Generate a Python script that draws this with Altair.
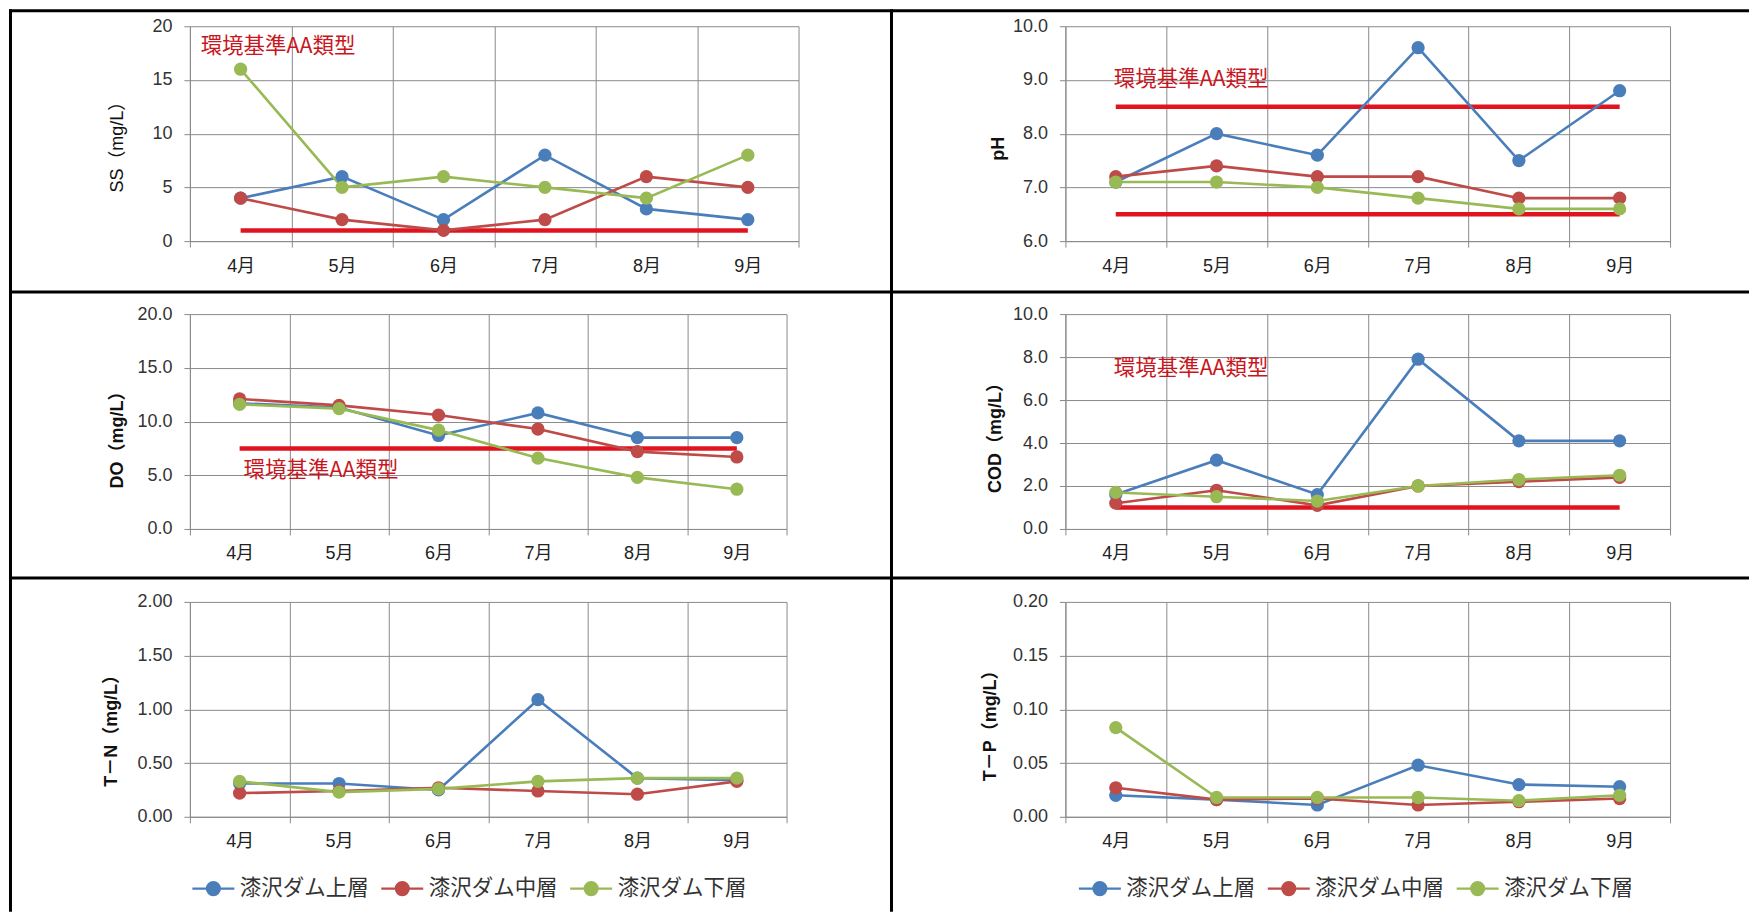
import altair as alt
import pandas as pd

# ---- data -------------------------------------------------------------
months = ["4月", "5月", "6月", "7月", "8月", "9月"]
series_names = ["漆沢ダム上層", "漆沢ダム中層", "漆沢ダム下層"]
series_colors = ["#4A7EBB", "#BE4B48", "#98B954"]

ss_upper = [4, 6, 2, 8, 3, 2]
ss_middle = [4, 2, 1, 2, 6, 5]
ss_lower = [16, 5, 6, 5, 4, 8]
ss_standard = [1.0]
ss_ticks = [0, 5, 10, 15, 20]

ph_upper = [7.1, 8.0, 7.6, 9.6, 7.5, 8.8]
ph_middle = [7.2, 7.4, 7.2, 7.2, 6.8, 6.8]
ph_lower = [7.1, 7.1, 7.0, 6.8, 6.6, 6.6]
ph_standard = [8.5, 6.5]
ph_ticks = [6.0, 7.0, 8.0, 9.0, 10.0]

do_upper = [11.7, 11.3, 8.7, 10.8, 8.5, 8.5]
do_middle = [12.1, 11.5, 10.6, 9.3, 7.2, 6.7]
do_lower = [11.6, 11.2, 9.2, 6.6, 4.8, 3.7]
do_standard = [7.5]
do_ticks = [0.0, 5.0, 10.0, 15.0, 20.0]

cod_upper = [1.6, 3.2, 1.6, 7.9, 4.1, 4.1]
cod_middle = [1.2, 1.8, 1.1, 2.0, 2.2, 2.4]
cod_lower = [1.7, 1.5, 1.3, 2.0, 2.3, 2.5]
cod_standard = [1.0]
cod_ticks = [0.0, 2.0, 4.0, 6.0, 8.0, 10.0]

tn_upper = [0.31, 0.31, 0.25, 1.09, 0.36, 0.34]
tn_middle = [0.22, 0.24, 0.27, 0.24, 0.21, 0.33]
tn_lower = [0.33, 0.23, 0.26, 0.33, 0.36, 0.36]
tn_ticks = [0.0, 0.5, 1.0, 1.5, 2.0]

tp_upper = [0.020, 0.016, 0.011, 0.048, 0.030, 0.028]
tp_middle = [0.027, 0.016, 0.017, 0.011, 0.014, 0.017]
tp_lower = [0.083, 0.018, 0.018, 0.018, 0.015, 0.020]
tp_ticks = [0.0, 0.05, 0.10, 0.15, 0.20]

NOTE_TEXT = "環境基準AA類型"

# ---- styling ----------------------------------------------------------
FONT_NUM = "Liberation Sans, Noto Sans CJK JP"
FONT_JP = "Noto Sans CJK JP"
GRID = "#8A8A8A"
STD_COLOR = "#E0141E"
NOTE_COLOR = "#C8161E"

# legend glyph: a short line with a filled dot in the middle
_rings = [0.3095, 0.2619, 0.2143, 0.1667, 0.1190, 0.0714, 0.0238]
LEGEND_SYMBOL = "M-1,0L1,0" + "".join(
    f"M{r},0A{r},{r},0,1,1,{-r},0A{r},{r},0,1,1,{r},0Z" for r in _rings
)


def build_panel(upper, middle, lower, ticks, fmt, title, *, width, height,
                title_x, title_y, title_weight="bold", standards=None,
                note=None, legend=None, extra_layers=()):
    data = pd.DataFrame({
        "month": months * 3,
        "series": [name for name in series_names for _ in months],
        "value": upper + middle + lower,
    })

    x = alt.X(
        "month:N", sort=months,
        scale=alt.Scale(type="band", domain=months, paddingInner=0, paddingOuter=0),
        axis=alt.Axis(
            title=None, tickBand="extent", grid=True, gridColor=GRID,
            gridWidth=1, domainColor=GRID, tickColor=GRID, tickSize=6,
            labelPadding=10, labelAngle=0, labelFont=FONT_NUM,
            labelFontSize=18, labelColor="#222",
        ),
    )
    y = alt.Y(
        "value:Q",
        scale=alt.Scale(domain=[ticks[0], ticks[-1]], nice=False, zero=False),
        axis=alt.Axis(
            values=ticks, format=fmt, title=title, titleX=title_x,
            titleY=title_y, titleAngle=270, titleAlign="center",
            titleBaseline="middle", titleFont=FONT_NUM, titleFontSize=18,
            titleFontWeight=title_weight, titleColor="#111", grid=True,
            gridColor=GRID, gridWidth=1, domainColor=GRID, tickColor=GRID,
            tickSize=6, labelPadding=12, labelFont=FONT_NUM,
            labelFontSize=18, labelColor="#333",
        ),
    )
    color_scale = alt.Scale(domain=series_names, range=series_colors)

    layers = list(extra_layers)

    if standards:
        std = pd.DataFrame({
            "month": months * len(standards),
            "value": [s for s in standards for _ in months],
            "level": [i for i in range(len(standards)) for _ in months],
        })
        layers.append(
            alt.Chart(std).mark_line(color=STD_COLOR, strokeWidth=4.5)
            .encode(x=x, y=y, detail="level:N")
        )

    if note is not None:
        note_y, note_dx = note
        note_df = pd.DataFrame({"month": [months[0]], "value": [note_y]})
        layers.append(
            alt.Chart(note_df).mark_text(
                text=NOTE_TEXT, align="left", baseline="middle", dx=note_dx,
                font=FONT_JP, fontSize=21.5, color=NOTE_COLOR,
            ).encode(x=x, y=y)
        )

    layers.append(
        alt.Chart(data).mark_line(strokeWidth=2.6).encode(
            x=x, y=y,
            color=alt.Color("series:N", scale=color_scale, legend=legend),
        )
    )
    layers.append(
        alt.Chart(data).mark_point(filled=True, size=175, opacity=1).encode(
            x=x, y=y,
            color=alt.Color("series:N", scale=color_scale, legend=None),
        )
    )
    return alt.layer(*layers).properties(width=width, height=height)


def series_legend(x_offset):
    return alt.Legend(
        orient="none", legendX=x_offset, legendY=264, direction="horizontal",
        title=None, symbolType=LEGEND_SYMBOL, symbolSize=1764,
        symbolStrokeWidth=2.2, labelFont=FONT_JP, labelFontSize=21.5,
        labelColor="#333", labelOffset=4, columnPadding=7, padding=0,
    )


# black frame lines of the 3 x 2 board, placed relative to the first panel
def frame_rule(x1, x2, y1, y2):
    return alt.Chart(pd.DataFrame({"k": [0]})).mark_rule(
        color="#000000", strokeWidth=3
    ).encode(x=alt.value(x1), x2=alt.value(x2), y=alt.value(y1), y2=alt.value(y2))


frame = [
    frame_rule(-181, 1560, -15.5, -15.5),   # top edge
    frame_rule(-179.5, -179.5, -17, 886),   # left edge
    frame_rule(702, 702, -17, 886),         # centre divider
    frame_rule(-181, 1560, 266, 266),       # between rows 1 and 2
    frame_rule(-181, 1560, 552, 552),       # between rows 2 and 3
]

ss = build_panel(ss_upper, ss_middle, ss_lower, ss_ticks, "d", "SS（mg/L）",
                 width=609, height=215, title_x=-72, title_y=116,
                 title_weight="normal", standards=ss_standard,
                 note=(18.1, -40), extra_layers=frame)
ph = build_panel(ph_upper, ph_middle, ph_lower, ph_ticks, ".1f", "pH",
                 width=605, height=215, title_x=-67, title_y=122,
                 standards=ph_standard, note=(9.0, -2))
do = build_panel(do_upper, do_middle, do_lower, do_ticks, ".1f", "DO（mg/L）",
                 width=597, height=215, title_x=-72, title_y=121,
                 standards=do_standard, note=(5.4, 4))
cod = build_panel(cod_upper, cod_middle, cod_lower, cod_ticks, ".1f",
                  "COD（mg/L）", width=605, height=215, title_x=-70,
                  title_y=119, standards=cod_standard, note=(7.45, -2))
tn = build_panel(tn_upper, tn_middle, tn_lower, tn_ticks, ".2f", "T－N（mg/L）",
                 width=597, height=215, title_x=-78, title_y=124,
                 legend=series_legend(1))
tp = build_panel(tp_upper, tp_middle, tp_lower, tp_ticks, ".2f", "T－P（mg/L）",
                 width=605, height=215, title_x=-75, title_y=119,
                 legend=series_legend(12))

chart = (
    alt.concat(ss, ph, do, cod, tn, tp, columns=2,
               spacing={"row": 73, "column": 267}, bounds="flush", align="all")
    .resolve_scale(x="independent", y="independent", color="independent")
    .resolve_legend(color="independent")
    .properties(padding={"left": 7, "top": 7, "right": 0, "bottom": 0},
                background="#FFFFFF")
    .configure_view(stroke=None)
)

chart.save("out.html", embed_options={"renderer": "svg", "actions": False})
